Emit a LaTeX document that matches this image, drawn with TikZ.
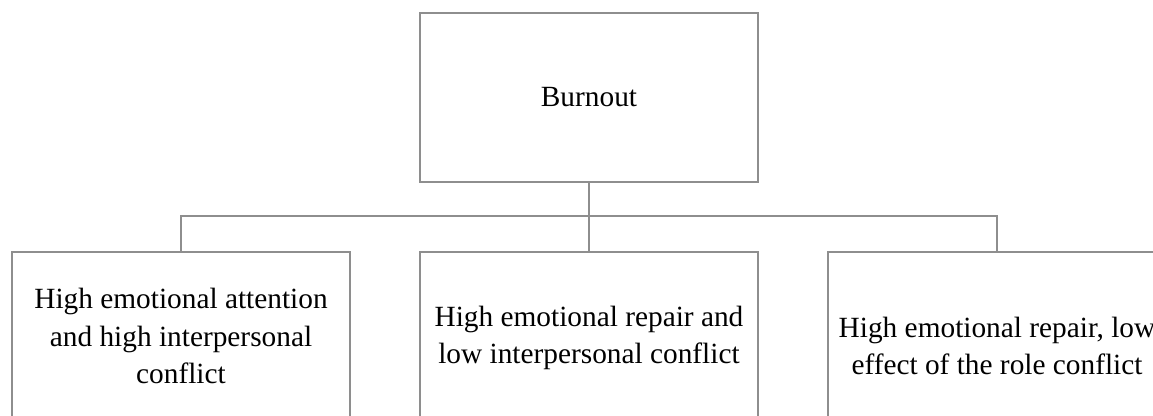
\documentclass[tikz,border=0pt]{standalone}
\usepackage{fontspec}
\setmainfont{Liberation Serif}
\usepackage{xcolor}
\usetikzlibrary{positioning}
\definecolor{framegray}{RGB}{142,142,142}

\begin{document}
\begin{tikzpicture}[x=0.75pt,y=-0.75pt,
  box/.style={draw=framegray,line width=1.6pt,minimum width=253.5pt,inner sep=0pt},
  lbl/.style={align=center,font=\fontsize{22}{28}\selectfont,text=black},
  link/.style={draw=framegray,line width=1.6pt}
]
\useasboundingbox (0,0) rectangle (1153,415);
\clip (0,0) rectangle (1153,415);

\node[box,minimum height=126.75pt] (top) at (589,97.5) {};
\node[lbl] (ttop) at (top.center) {Burnout};

\node[box,minimum height=171pt] (b1) at (181,366) {};
\node[box,minimum height=171pt] (b2) at (589,366) {};
\node[box,minimum height=171pt] (b3) at (997,366) {};

\node[lbl] (t1) at (181,336) {High emotional attention\\and high interpersonal\\conflict};
\node[lbl] (t2) at (589,338) {High emotional repair and\\low interpersonal conflict};
\node[lbl] (t3) at (997,346) {High emotional repair, low\\effect of the role conflict};

\coordinate (hub) at (589,216);
\draw[link] (top) -- (hub);
\draw[link] (b1.north) |- (hub) -| (b3.north);
\draw[link] (hub) -- (b2);
\end{tikzpicture}
\end{document}
